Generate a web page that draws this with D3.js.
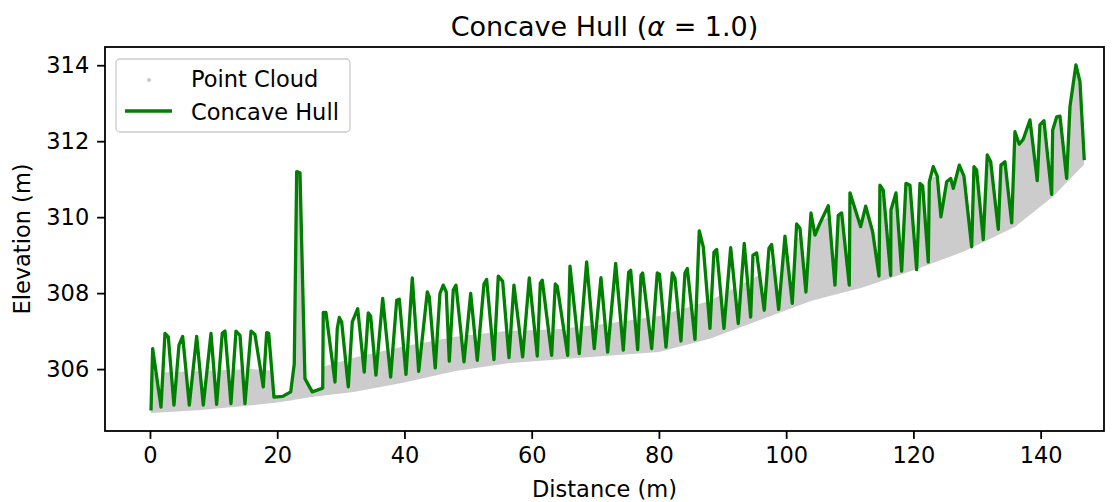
<!DOCTYPE html>
<html>
<head>
<meta charset="utf-8">
<script src="https://cdn.jsdelivr.net/npm/d3@7"></script>
<style>
body{margin:0;background:#fff;}
svg{display:block;font-family:"DejaVu Sans",sans-serif;}
</style>
</head>
<body>
<div id="chart"></div>
<script>
// concave hull vertices (distance m, elevation m)
const hullDist=[0.16,0.31,0.42,1.73,2.36,2.88,3.77,4.56,5.14,6.18,
7.34,8.38,9.59,10.48,11.36,11.79,12.73,13.52,14.15,14.93,
15.88,16.50,17.81,18.34,18.66,19.49,20.86,22.12,22.68,23.06,
23.58,24.36,25.51,27.15,27.24,27.66,29.08,29.44,29.76,30.13,
31.17,31.80,32.65,33.68,34.31,34.69,35.52,36.58,37.83,38.78,
39.19,40.24,41.23,42.24,43.59,43.90,44.84,45.58,46.10,46.57,
47.05,47.67,48.10,49.36,50.41,51.45,52.50,52.92,54.07,54.75,
55.44,56.43,57.21,58.58,59.62,60.88,61.35,61.66,63.14,63.71,
64.02,65.66,66.02,67.48,68.64,69.84,70.89,71.94,73.20,74.40,
75.24,75.56,76.66,77.18,77.44,78.86,79.74,80.09,81.11,82.10,
82.52,83.46,84.09,84.46,85.67,86.34,86.97,88.02,88.65,89.08,
90.22,91.28,92.47,93.41,94.42,94.78,95.36,96.56,97.30,97.72,
98.82,99.81,100.96,101.65,102.17,103.11,103.90,104.53,105.31,106.62,
107.67,108.19,108.72,109.92,110.03,111.71,112.50,113.60,114.59,114.74,
115.26,116.43,116.47,117.26,118.15,118.83,119.46,120.51,121.03,121.46,
122.34,122.50,123.12,123.75,124.33,125.23,125.86,126.27,127.21,127.95,
129.16,129.52,129.94,130.98,131.61,132.15,133.34,133.76,134.39,135.45,
135.96,136.64,137.27,138.32,139.47,139.89,140.52,141.73,141.89,142.52,
143.04,144.09,144.61,145.55,146.18,146.86];
const hullElev=[304.91,305.84,306.54,305.00,306.94,306.85,305.05,306.63,306.86,305.05,
306.86,305.05,306.94,305.07,306.94,307.00,305.09,307.00,306.89,305.09,
307.00,306.91,305.53,306.96,306.94,305.26,305.28,305.40,306.14,311.20,
311.17,305.75,305.40,305.50,307.49,307.49,305.66,307.07,307.36,307.24,
305.53,307.24,307.59,305.92,307.48,307.39,305.84,307.86,305.79,307.81,
307.84,305.86,308.40,305.94,308.03,307.90,306.03,307.99,308.21,308.03,
306.21,308.08,308.21,306.19,307.99,306.23,308.24,308.36,306.25,308.45,
308.31,306.30,308.21,306.32,308.40,306.34,308.26,308.34,306.36,308.24,
308.18,306.36,308.71,306.41,308.82,306.54,308.41,306.45,308.78,306.50,
308.55,308.60,306.51,308.47,308.53,306.54,308.53,308.50,306.58,308.53,
308.39,306.74,308.53,308.65,306.78,309.64,309.22,307.07,309.08,309.15,
307.07,309.20,307.20,309.31,307.37,309.00,309.06,307.55,309.18,309.28,
307.57,309.50,307.73,309.82,309.71,308.03,310.11,309.53,309.84,310.30,
308.21,310.05,310.11,308.21,310.64,309.75,310.29,309.61,308.45,310.84,
310.71,308.47,310.19,310.64,308.58,310.89,310.84,308.62,310.89,310.82,
308.82,310.93,311.33,311.08,310.01,310.93,311.02,310.76,311.37,311.08,
309.22,311.33,311.24,309.41,311.64,311.46,309.68,311.37,311.46,309.85,
312.25,311.92,312.05,312.56,310.96,312.43,312.54,310.60,312.29,312.64,
312.66,311.02,312.91,314.01,313.57,311.50];

// point cloud band: lower edge and top of the dense part
const cloudDist=[0.1,8,16,20,22.4,22.8,23.8,24.4,26,32,40,48,56,64,72,80,88,96,104,112,120,128,136,142,146.9];
const cloudLow=[304.84,304.92,305.05,305.12,305.18,305.2,305.22,305.24,305.28,305.4,
305.65,305.95,306.15,306.25,306.35,306.45,306.8,307.3,307.8,308.15,
308.6,309.1,309.75,310.55,311.4];
const cloudHigh=[305.9,305.95,306.0,305.95,306.0,311.2,311.2,305.95,306.0,306.3,
306.6,306.85,307.0,307.05,307.2,307.4,307.8,308.5,309.8,310.4,
310.9,311.3,312.4,313.0,314.0];

const xTicks=[0,20,40,60,80,100,120,140];
const yTicks=[306,308,310,312,314];

const W=1120,H=502;
const box={left:105,right:1104,top:47,bottom:431};
const fs=22.5;

const svg=d3.select("#chart").append("svg")
  .attr("width",W).attr("height",H);

const x=d3.scaleLinear().domain([-7.07,149.96]).range([box.left,box.right]);
const y=d3.scaleLinear().domain([304.37,314.48]).range([box.bottom,box.top]);

const hull=hullDist.map((d,i)=>({d,e:hullElev[i]}));
const cloud=cloudDist.map((d,i)=>({d,lo:cloudLow[i],hi:cloudHigh[i]}));

// cloud only shows inside the hull
svg.append("clipPath").attr("id","under-hull").append("path")
  .attr("d",d3.area().x(p=>x(p.d)).y0(box.bottom).y1(p=>y(p.e))(hull));

svg.append("path")
  .attr("clip-path","url(#under-hull)")
  .attr("fill","#cccccc")
  .attr("d",d3.area().x(p=>x(p.d)).y0(p=>y(p.lo)).y1(p=>y(p.hi))(cloud));

svg.append("path")
  .attr("fill","none")
  .attr("stroke","#008000")
  .attr("stroke-width",3.3)
  .attr("stroke-linejoin","round")
  .attr("d",d3.line().x(p=>x(p.d)).y(p=>y(p.e))(hull));

// axes
function styleAxis(g){
  g.select(".domain").remove();
  g.selectAll("line").attr("stroke","#000").attr("stroke-width",1.8);
  g.selectAll("text").attr("fill","#000").style("font-size",fs+"px")
    .style("font-family","DejaVu Sans");
}
svg.append("g").attr("transform",`translate(0,${box.bottom})`)
  .call(d3.axisBottom(x).tickValues(xTicks).tickSize(7.9).tickPadding(7.9))
  .call(styleAxis);
svg.append("g").attr("transform",`translate(${box.left},0)`)
  .call(d3.axisLeft(y).tickValues(yTicks).tickSize(7.9).tickPadding(7.9))
  .call(styleAxis);

svg.append("rect")
  .attr("x",box.left).attr("y",box.top)
  .attr("width",box.right-box.left).attr("height",box.bottom-box.top)
  .attr("fill","none").attr("stroke","#000").attr("stroke-width",1.8);

// labels
svg.append("text")
  .attr("x",(box.left+box.right)/2).attr("y",497)
  .attr("text-anchor","middle").style("font-size",fs+"px")
  .text("Distance (m)");

svg.append("text")
  .attr("transform",`translate(30,${(box.top+box.bottom)/2}) rotate(-90)`)
  .attr("text-anchor","middle").style("font-size",fs+"px")
  .text("Elevation (m)");

const title=svg.append("text")
  .attr("x",(box.left+box.right)/2).attr("y",36)
  .attr("text-anchor","middle").style("font-size","27px");
title.append("tspan").text("Concave Hull (");
title.append("tspan").style("font-style","italic").text("α");
title.append("tspan").text(" = 1.0)");

// legend
const lg=svg.append("g");
lg.append("rect")
  .attr("x",116).attr("y",59).attr("width",234).attr("height",73).attr("rx",4)
  .attr("fill","#fff").attr("fill-opacity",0.8)
  .attr("stroke","#cccccc").attr("stroke-width",1.3);
lg.append("circle").attr("cx",149).attr("cy",80).attr("r",2).attr("fill","#c8c8c8");
lg.append("text").attr("x",191).attr("y",87).style("font-size",fs+"px").text("Point Cloud");
lg.append("line").attr("x1",125).attr("x2",172).attr("y1",111).attr("y2",111)
  .attr("stroke","#008000").attr("stroke-width",3.3);
lg.append("text").attr("x",191).attr("y",120).style("font-size",fs+"px").text("Concave Hull");
</script>
</body>
</html>
